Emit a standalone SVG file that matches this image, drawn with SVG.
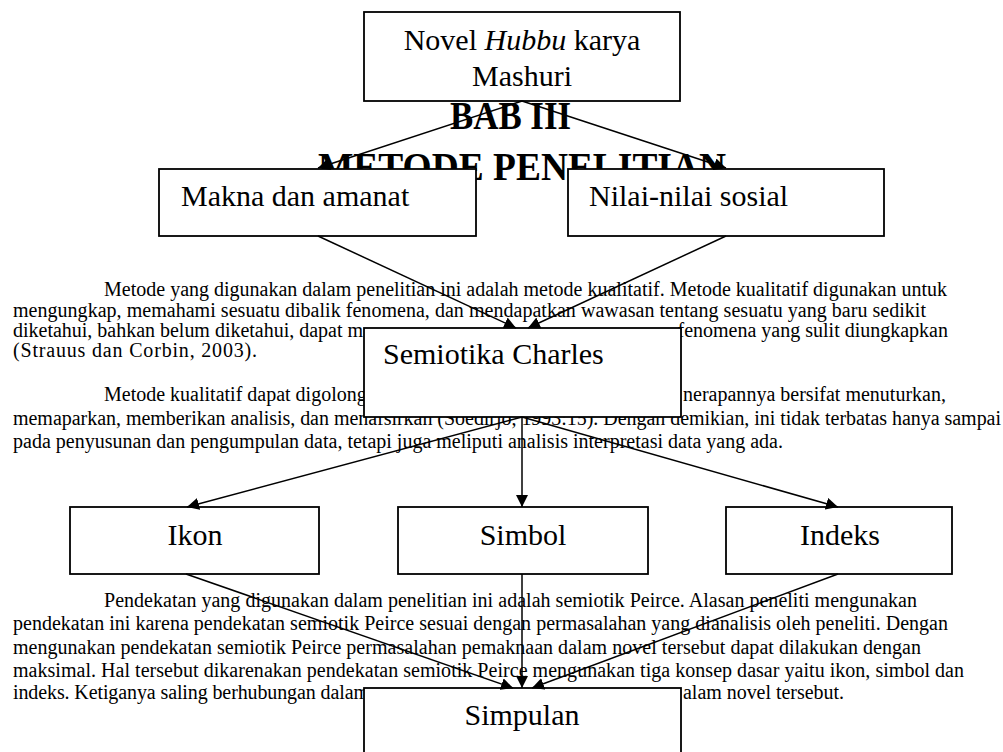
<svg xmlns="http://www.w3.org/2000/svg" width="1003" height="752" viewBox="0 0 1003 752">
  <style>
    .body { font-family: "Liberation Serif", "Times New Roman", serif; font-size: 20px; fill: #000; }
    .head { font-family: "Liberation Serif", "Times New Roman", serif; font-size: 41px; font-weight: bold; fill: #000; }
    .box { fill: #fff; stroke: #000; stroke-width: 1.8; }
    .label { font-family: "Liberation Serif", "Times New Roman", serif; font-size: 30px; fill: #000; }
    .mid { text-anchor: middle; }
    .edge { fill: none; stroke: #000; stroke-width: 1.5; marker-end: url(#arrow); }
  </style>
  <defs>
    <marker id="arrow" viewBox="0 0 12 12" refX="12" refY="6" markerWidth="12" markerHeight="12" markerUnits="userSpaceOnUse" orient="auto">
      <path d="M0,0 L12,6 L0,12 z" fill="#000"/>
    </marker>
  </defs>

  <rect width="1003" height="752" fill="#fff"/>

  <!-- page text behind the chart -->
  <g id="page-text">
    <text class="head" x="450" y="129" textLength="121" lengthAdjust="spacingAndGlyphs">BAB III</text>
    <text class="head" x="318" y="180" textLength="408" lengthAdjust="spacingAndGlyphs">METODE PENELITIAN</text>

    <text class="body" x="104" y="296" textLength="843">Metode yang digunakan dalam penelitian ini adalah metode kualitatif. Metode kualitatif digunakan untuk</text>
    <text class="body" x="13" y="316.5" textLength="913">mengungkap, memahami sesuatu dibalik fenomena, dan mendapatkan wawasan tentang sesuatu yang baru sedikit</text>
    <text class="body" x="13" y="337" textLength="350">diketahui, bahkan belum diketahui, dapat m</text>
    <text class="body" x="677.5" y="337" textLength="270.5">fenomena yang sulit diungkapkan</text>
    <text class="body" x="13" y="356.5" textLength="244">(Strauus dan Corbin, 2003).</text>

    <text class="body" x="104" y="401">Metode kualitatif dapat digolong</text>
    <text class="body" x="683" y="401" textLength="263">nerapannya bersifat menuturkan,</text>
    <text class="body" x="13" y="425" textLength="988">memaparkan, memberikan analisis, dan menafsirkan (Soedirjo, 1993:15). Dengan demikian, ini tidak terbatas hanya sampai</text>
    <text class="body" x="13" y="448" textLength="770">pada penyusunan dan pengumpulan data, tetapi juga meliputi analisis interpretasi data yang ada.</text>

    <text class="body" x="104" y="607" textLength="813">Pendekatan yang digunakan dalam penelitian ini adalah semiotik Peirce. Alasan peneliti mengunakan</text>
    <text class="body" x="13" y="630" textLength="935">pendekatan ini karena pendekatan semiotik Peirce sesuai dengan permasalahan yang dianalisis oleh peneliti. Dengan</text>
    <text class="body" x="13" y="654" textLength="908">mengunakan pendekatan semiotik Peirce permasalahan pemaknaan dalam novel tersebut dapat dilakukan dengan</text>
    <text class="body" x="13" y="677" textLength="951">maksimal. Hal tersebut dikarenakan pendekatan semiotik Peirce mengunakan tiga konsep dasar yaitu ikon, simbol dan</text>
    <text class="body" x="13" y="699" textLength="356">indeks. Ketiganya saling berhubungan dalam</text>
    <text class="body" x="683" y="699" textLength="161">alam novel tersebut.</text>
  </g>

  <!-- nodes -->
  <g id="node-novel">
    <rect class="box" x="364" y="12" width="316" height="89"/>
    <text class="label mid" x="522" y="50">Novel <tspan font-style="italic">Hubbu</tspan> karya</text>
    <text class="label mid" x="522" y="86">Mashuri</text>
  </g>
  <g id="node-makna">
    <rect class="box" x="159" y="169" width="317" height="67"/>
    <text class="label" x="181" y="206">Makna dan amanat</text>
  </g>
  <g id="node-nilai">
    <rect class="box" x="568" y="169" width="316" height="67"/>
    <text class="label" x="589" y="206">Nilai-nilai sosial</text>
  </g>
  <g id="node-semiotika">
    <rect class="box" x="364" y="328" width="317" height="89"/>
    <text class="label" x="383" y="364">Semiotika Charles</text>
  </g>
  <g id="node-ikon">
    <rect class="box" x="70" y="507" width="249" height="67"/>
    <text class="label mid" x="195" y="545">Ikon</text>
  </g>
  <g id="node-simbol">
    <rect class="box" x="398" y="507" width="250" height="67"/>
    <text class="label mid" x="523" y="545">Simbol</text>
  </g>
  <g id="node-indeks">
    <rect class="box" x="726" y="507" width="226" height="67"/>
    <text class="label mid" x="840" y="545">Indeks</text>
  </g>
  <g id="node-simpulan">
    <rect class="box" x="364" y="688" width="317" height="100"/>
    <text class="label mid" x="522" y="725">Simpulan</text>
  </g>

  <!-- connectors -->
  <g id="connectors">
    <line class="edge" x1="522" y1="101" x2="318" y2="168"/>
    <line class="edge" x1="522" y1="101" x2="726" y2="168"/>
    <line class="edge" x1="318" y1="236" x2="516" y2="328"/>
    <line class="edge" x1="726" y1="236" x2="528" y2="328"/>
    <line class="edge" x1="522" y1="417" x2="187" y2="507"/>
    <line class="edge" x1="522" y1="417" x2="522" y2="507"/>
    <line class="edge" x1="522" y1="417" x2="838" y2="507"/>
    <line class="edge" x1="186" y1="574" x2="513" y2="688"/>
    <line class="edge" x1="522" y1="574" x2="522" y2="688"/>
    <line class="edge" x1="838" y1="574" x2="532" y2="688"/>
  </g>
</svg>
